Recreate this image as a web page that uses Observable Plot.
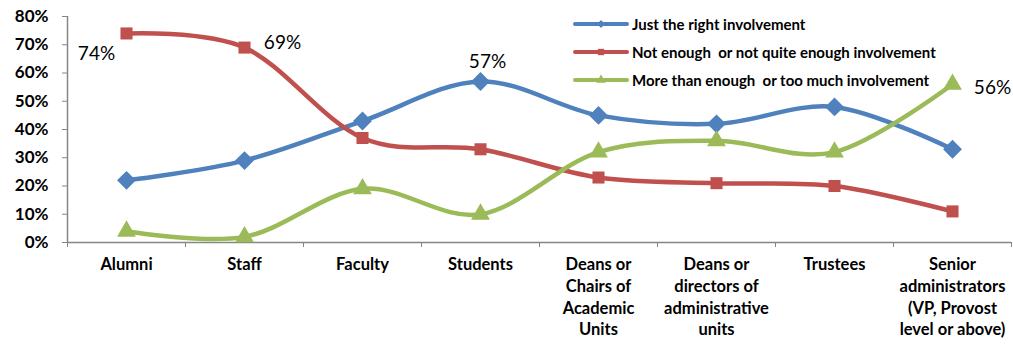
<!DOCTYPE html>
<html>
<head>
<meta charset="utf-8">
<script src="https://cdn.jsdelivr.net/npm/d3@7"></script>
<script src="https://cdn.jsdelivr.net/npm/@observablehq/plot@0.6"></script>
<style>
  html, body { margin: 0; padding: 0; background: #fff; }
  #wrap { position: relative; width: 1013px; height: 346px; font-family: Lato, "Open Sans", sans-serif; }
  #legend { position: absolute; left: 573px; top: 10px; }
  .row { display: flex; align-items: center; height: 28px; font-size: 15px; font-weight: bold; color: #000; white-space: pre; }
  .row svg { margin-right: 3px; }
</style>
</head>
<body>
<div id="wrap"><div id="legend"></div></div>
<script>
const categories = ["Alumni", "Staff", "Faculty", "Students",
  "Deans or Chairs of Academic Units", "Deans or directors of administrative units",
  "Trustees", "Senior administrators (VP, Provost level or above)"];
const tickLabels = ["Alumni", "Staff", "Faculty", "Students",
  "Deans or\nChairs of\nAcademic\nUnits", "Deans or\ndirectors of\nadministrative\nunits",
  "Trustees", "Senior\nadministrators\n(VP, Provost\nlevel or above)"];
const seriesNames = ["Just the right involvement",
  "Not enough  or not quite enough involvement",
  "More than enough  or too much involvement"];
const justRight = [22, 29, 43, 57, 45, 42, 48, 33];
const notEnough = [74, 69, 37, 33, 23, 21, 20, 11];
const tooMuch   = [4, 2, 19, 10, 32, 36, 32, 56];
const yTicks = [0, 10, 20, 30, 40, 50, 60, 70, 80];

const colors = ["#4F81BD", "#C0504D", "#9BBB59"];
const symbols = ["diamond2", "square", "triangle"];
const values = [justRight, notEnough, tooMuch];

const rows = [];
values.forEach((vals, s) => vals.forEach((v, i) => rows.push({i, s, category: categories[i], series: seriesNames[s], value: v})));

const pick = (s, i) => rows.filter(d => d.s === s && d.i === i);

const marks = [];
values.forEach((vals, s) => {
  const data = rows.filter(d => d.s === s);
  marks.push(Plot.line(data, {x: "i", y: "value", stroke: colors[s], strokeWidth: 4.5, curve: "cardinal"}));
  marks.push(Plot.dot(data, {x: "i", y: "value", fill: colors[s], stroke: "none", symbol: symbols[s], r: [8.5, 6.8, 7][s]}));
});

const labelStyle = {x: "i", y: "value", text: d => d.value + "%", fontSize: 19, fill: "#000"};
marks.push(Plot.text(pick(1, 0), {...labelStyle, dx: -30, dy: 20}));
marks.push(Plot.text(pick(1, 1), {...labelStyle, dx: 38, dy: -5}));
marks.push(Plot.text(pick(0, 3), {...labelStyle, dx: 7, dy: -20}));
marks.push(Plot.text(pick(2, 7), {...labelStyle, dx: 40, dy: 4}));

const chart = Plot.plot({
  width: 1013,
  height: 346,
  marginLeft: 67,
  marginRight: 2,
  marginTop: 16,
  marginBottom: 104,
  style: {fontFamily: "Lato, 'Open Sans', sans-serif", background: "#fff", color: "#000"},
  x: {type: "linear", domain: [-0.5, 7.5]},
  y: {domain: [0, 80]},
  marks: [
    Plot.ruleY([0], {stroke: "#868686", strokeWidth: 1.5}),
    Plot.ruleX([-0.5], {stroke: "#868686", strokeWidth: 1.5}),
    Plot.axisY({ticks: yTicks, tickFormat: d => d + "%", tickSize: 5, tickPadding: 14,
      stroke: "#868686", fill: "#000", fontSize: 17, fontWeight: "bold", label: null}),
    Plot.axisX({ticks: d3.range(-0.5, 8, 1), tickFormat: () => "", tickSize: 5,
      stroke: "#868686", label: null}),
    Plot.axisX({ticks: d3.range(0, 8), tickFormat: i => tickLabels[i], tickSize: 0, tickPadding: 12,
      fill: "#000", fontSize: 16.5, fontWeight: "bold", lineHeight: 1.32, label: null}),
    ...marks
  ]
});
document.getElementById("wrap").prepend(chart);

// legend
const legend = d3.select("#legend");
seriesNames.forEach((name, s) => {
  const row = legend.append("div").attr("class", "row");
  const svg = row.append("svg").attr("width", 56).attr("height", 12);
  svg.append("line").attr("x1", 2).attr("x2", 54).attr("y1", 6).attr("y2", 6)
    .attr("stroke", colors[s]).attr("stroke-width", 4).attr("stroke-linecap", "round");
  const sym = d3.symbol().type([d3.symbolDiamond2, d3.symbolSquare, d3.symbolTriangle][s]).size(40);
  svg.append("path").attr("d", sym()).attr("transform", "translate(28,6)").attr("fill", colors[s]);
  row.append("span").text(name);
});
</script>
</body>
</html>
